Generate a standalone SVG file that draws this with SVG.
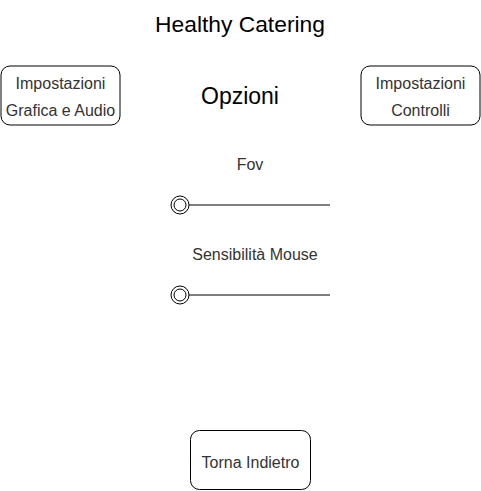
<svg xmlns="http://www.w3.org/2000/svg" width="481" height="491" viewBox="0 0 481 491">
<style>
.box{fill:#fff;stroke:#000;stroke-width:1}
.t{font-family:"Liberation Sans",Arial,sans-serif;font-size:16px;fill:#333;text-anchor:middle}
.h{font-family:"Liberation Sans",Arial,sans-serif;fill:#000;text-anchor:middle}
.ln{stroke:#000;stroke-width:1;fill:none}
</style>
<rect width="481" height="491" fill="#fff"/>
<text class="h" x="240" y="32" font-size="22.8">Healthy Catering</text>
<text class="h" x="240" y="104" font-size="23">Opzioni</text>
<g id="grafica">
<rect class="box" x="1" y="66" width="119" height="59" rx="9"/>
<text class="t" x="60.5" y="89">Impostazioni</text>
<text class="t" x="60.5" y="116">Grafica e Audio</text>
</g>
<g id="controlli">
<rect class="box" x="361" y="66" width="119" height="59" rx="9"/>
<text class="t" x="420.5" y="89">Impostazioni</text>
<text class="t" x="420.5" y="116">Controlli</text>
</g>
<g id="fov">
<text class="t" x="250" y="170">Fov</text>
<circle class="ln" cx="180" cy="205" r="9"/>
<circle class="ln" cx="180" cy="205" r="6"/>
<line class="ln" x1="189" y1="205" x2="330" y2="205"/>
</g>
<g id="sensibilita">
<text class="t" x="255" y="260">Sensibilità Mouse</text>
<circle class="ln" cx="180" cy="295" r="9"/>
<circle class="ln" cx="180" cy="295" r="6"/>
<line class="ln" x1="189" y1="295" x2="330" y2="295"/>
</g>
<g id="torna">
<rect class="box" x="190.5" y="430.5" width="120" height="59" rx="9"/>
<text class="t" x="250.5" y="468">Torna Indietro</text>
</g>
<g id="connectors"/>
</svg>
